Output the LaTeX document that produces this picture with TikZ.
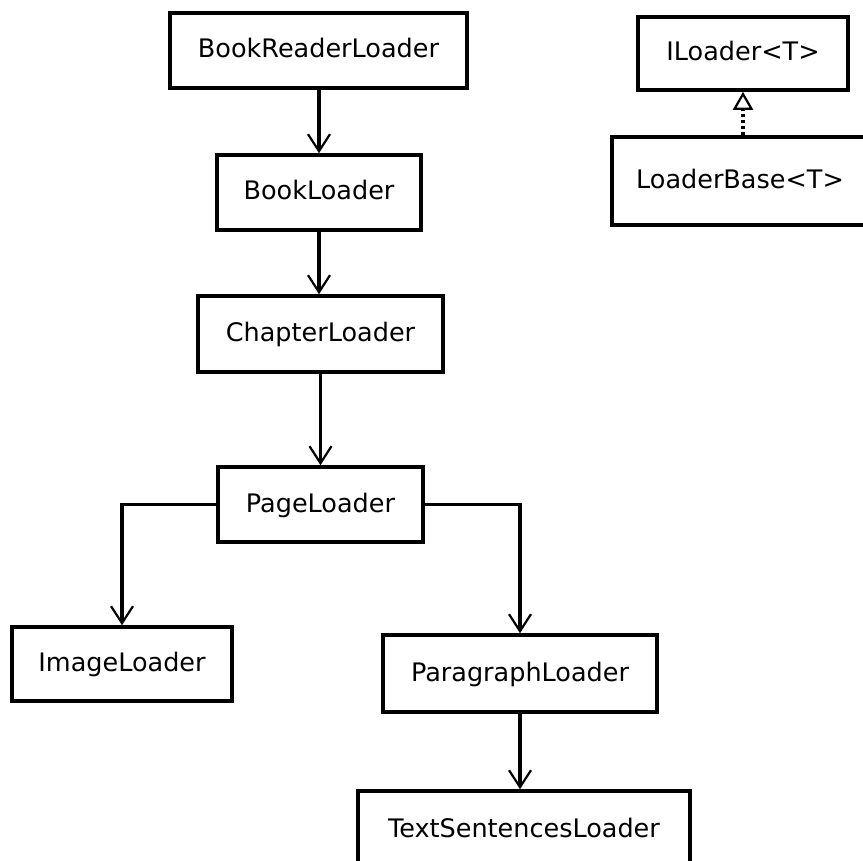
\documentclass[tikz,border=0pt]{standalone}
\usepackage{fontspec}
\setmainfont{DejaVu Sans}
\usetikzlibrary{arrows.meta}

\tikzset{
  cls/.style={draw, line width=3.6pt, inner sep=0pt, text height=20pt, text depth=5pt,
    font=\fontsize{25.5}{30}\selectfont},
  assoc/.style={line width=3.2pt, -{Straight Barb[length=17pt, width=22pt, line width=2.2pt]}},
  realize/.style={line width=3.2pt, dash pattern=on 3pt off 3pt,
    -{Triangle[open, length=18pt, width=20pt, line width=2.2pt]}}
}

\begin{document}
\begin{tikzpicture}[x=1pt, y=-1pt]
  \path[use as bounding box] (0,0) rectangle (863,861);
  \clip (0,0) rectangle (863,861);

  % loader chain
  \node[cls, minimum width=297pt, minimum height=75pt] (brl) at (318.5,50.5) {BookReaderLoader};
  \node[cls, minimum width=204pt, minimum height=75pt] (bl) at (319,192.5) {BookLoader};
  \node[cls, minimum width=245pt, minimum height=76pt] (cl) at (320.5,334) {ChapterLoader};
  \node[cls, minimum width=205pt, minimum height=75pt] (pl) at (320.5,504.5) {PageLoader};
  \node[cls, minimum width=220pt, minimum height=74pt] (il) at (122,664) {ImageLoader};
  \node[cls, minimum width=274pt, minimum height=77pt] (pgl) at (520,673.5) {ParagraphLoader};
  \node[cls, minimum width=332pt, minimum height=77pt] (tsl) at (524,829.5) {TextSentencesLoader};

  % generic base types
  \node[cls, minimum width=210pt, minimum height=73pt] (iload) at (743,53.5) {ILoader<T>};
  \node[cls, minimum width=256pt, minimum height=88pt] (lbase) at (740,181) {LoaderBase<T>};

  % associations
  \draw[assoc] (brl.south -| bl.north) -- (bl.north);
  \draw[assoc] (bl.south) -- (bl.south |- cl.north);
  \draw[assoc] (cl.south) -- (cl.south |- pl.north);
  \draw[assoc] (pl.west) -| (il.north);
  \draw[assoc] (pl.east) -| (pgl.north);
  \draw[assoc] (pgl.south) -- (pgl.south |- tsl.north);

  % realization
  \draw[realize] (iload.south |- lbase.north) -- (iload.south);
\end{tikzpicture}
\end{document}
